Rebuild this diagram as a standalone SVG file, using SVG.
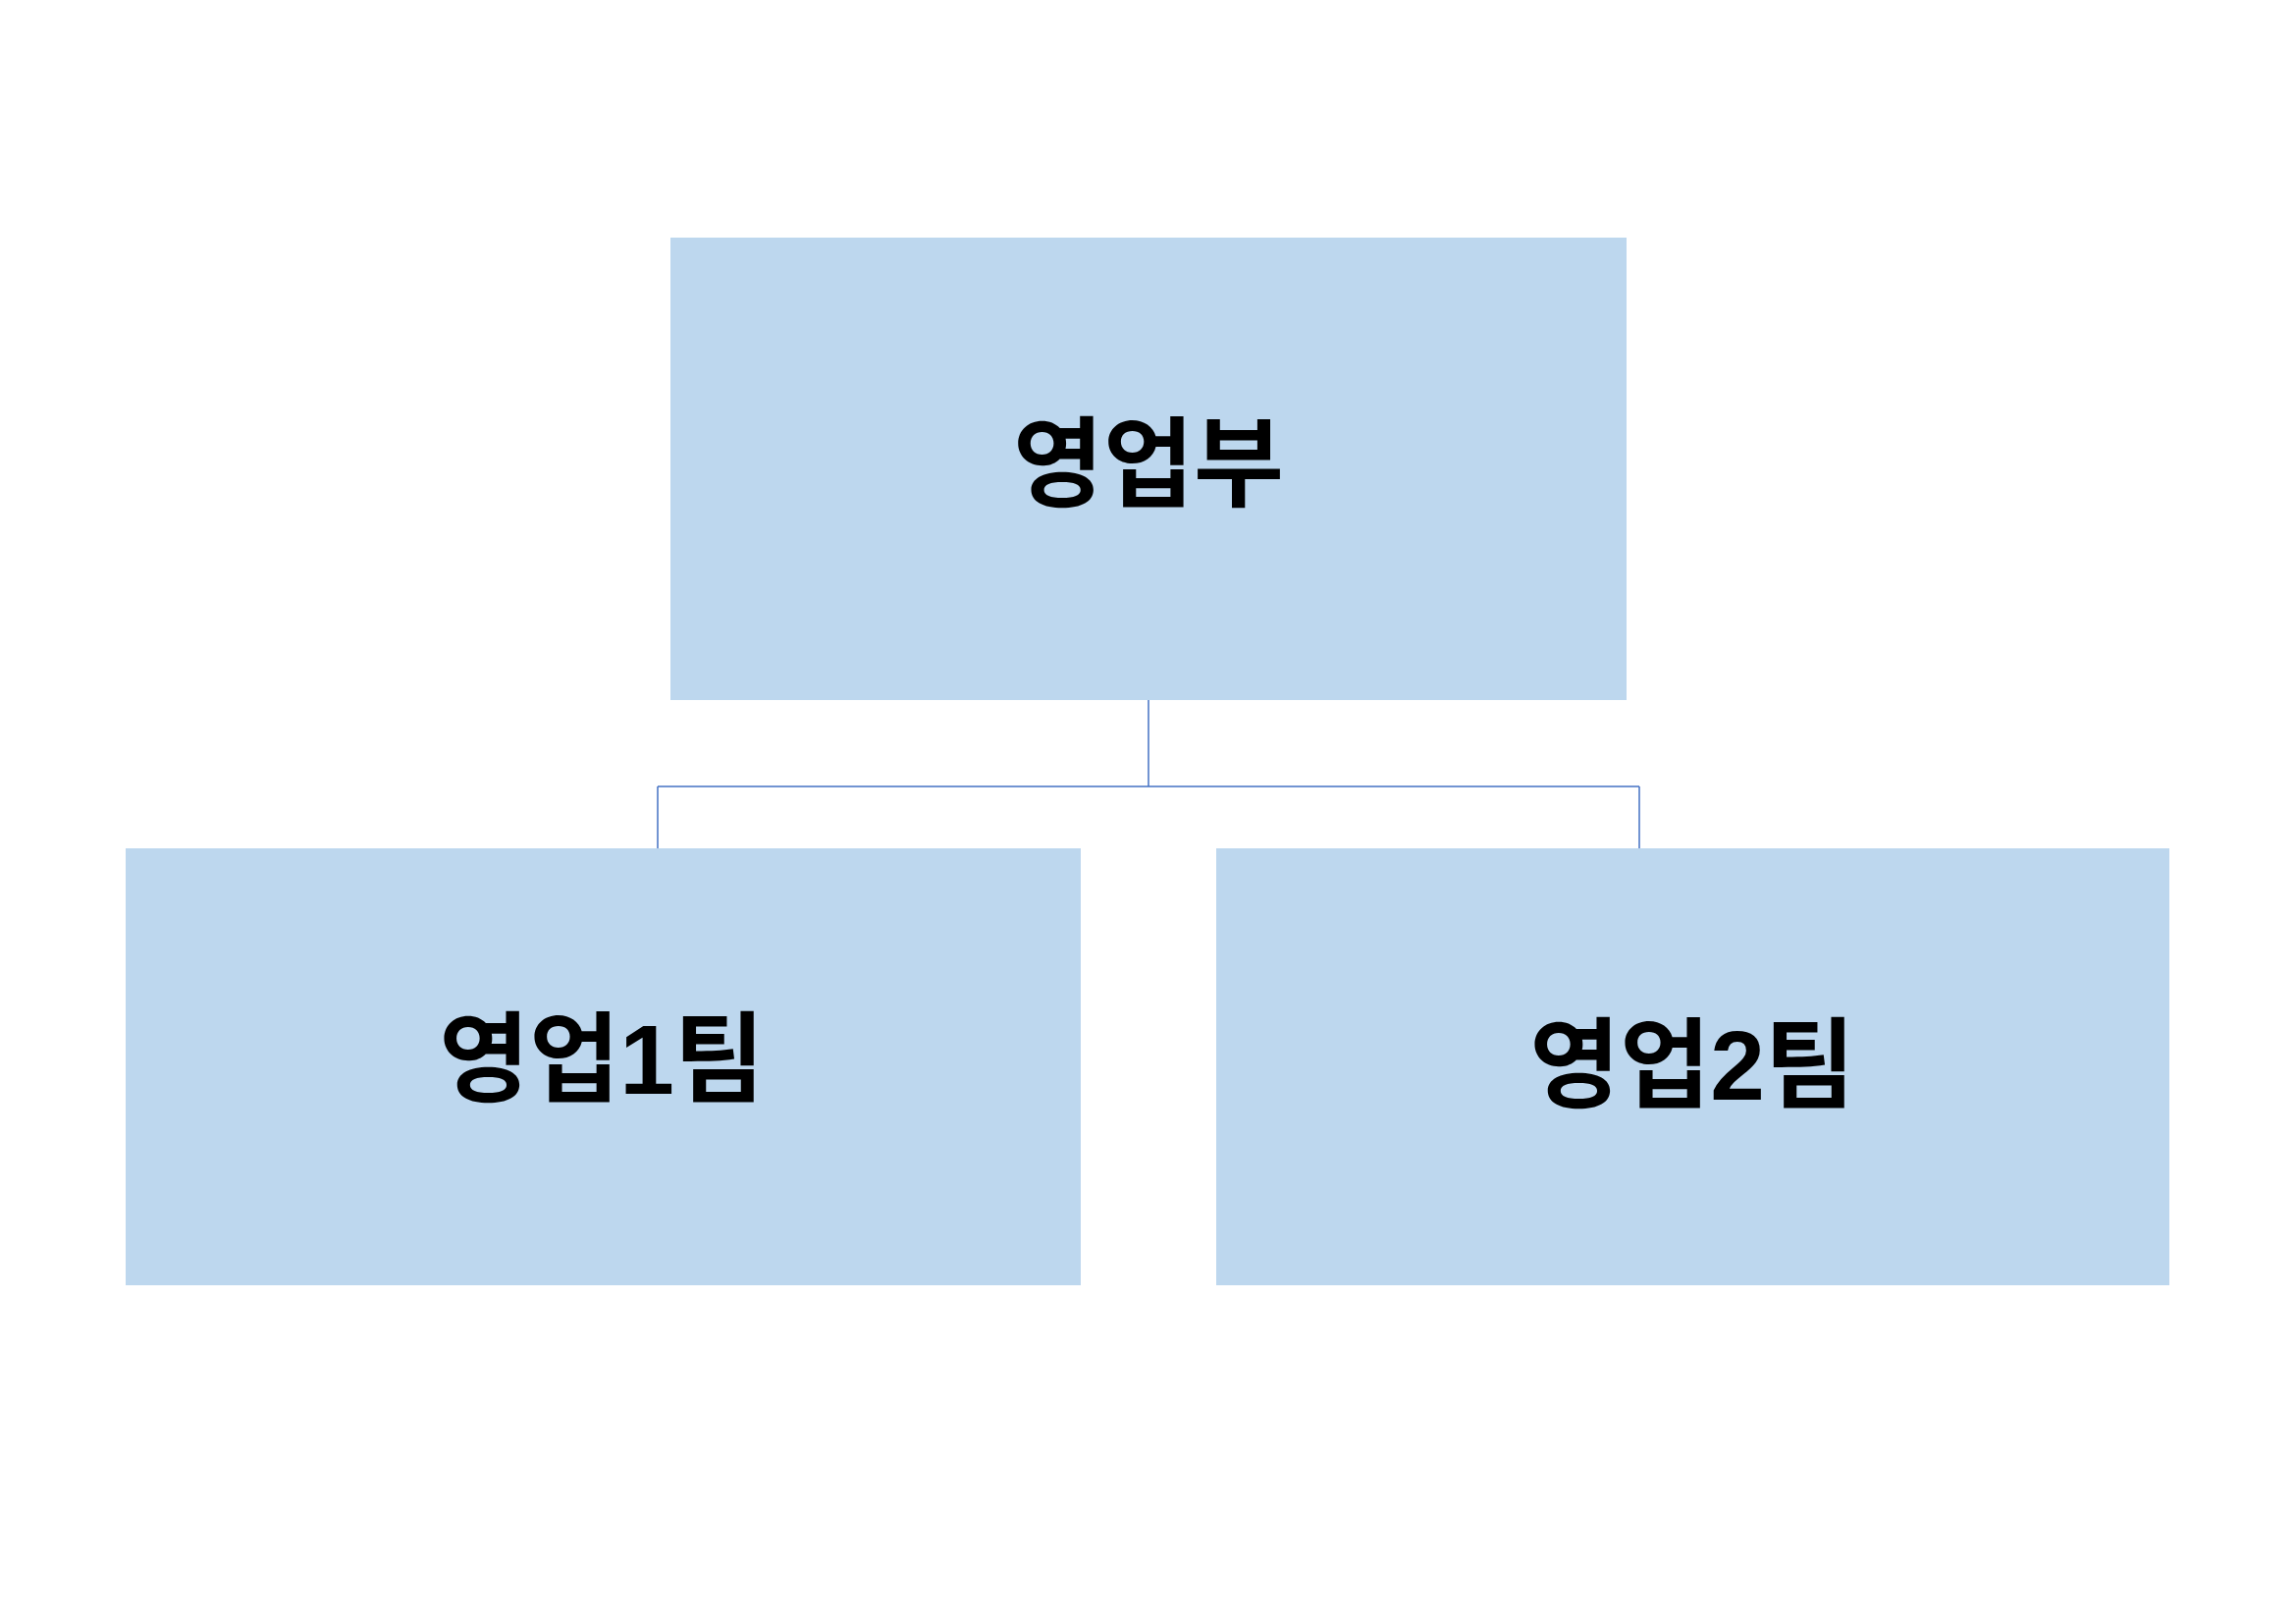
<svg xmlns="http://www.w3.org/2000/svg" width="2339" height="1654" viewBox="0 0 2339 1654">
<style>
.box{fill:#bdd7ee}
.t{font-family:"Liberation Sans","Noto Sans CJK KR",sans-serif;font-weight:bold;font-size:100px;fill:#000;text-anchor:middle;dominant-baseline:central}
.c{fill:none;stroke:#4472c4;stroke-width:1.5}
</style>
<rect width="2339" height="1654" fill="#fff"/>
<g id="connectors">
<path class="c" d="M1170 713 V801 M670 801 H1670 M670 801 V864 M1670 801 V864"/>
</g>
<g id="n0"><rect class="box" x="683" y="242" width="974" height="471"/><text class="t" x="1170" y="473">영업부</text></g>
<g id="n1"><rect class="box" x="128" y="864" width="973" height="445"/><text class="t" x="613" y="1079">영업1팀</text></g>
<g id="n2"><rect class="box" x="1239" y="864" width="971" height="445"/><text class="t" x="1724" y="1085">영업2팀</text></g>
</svg>
